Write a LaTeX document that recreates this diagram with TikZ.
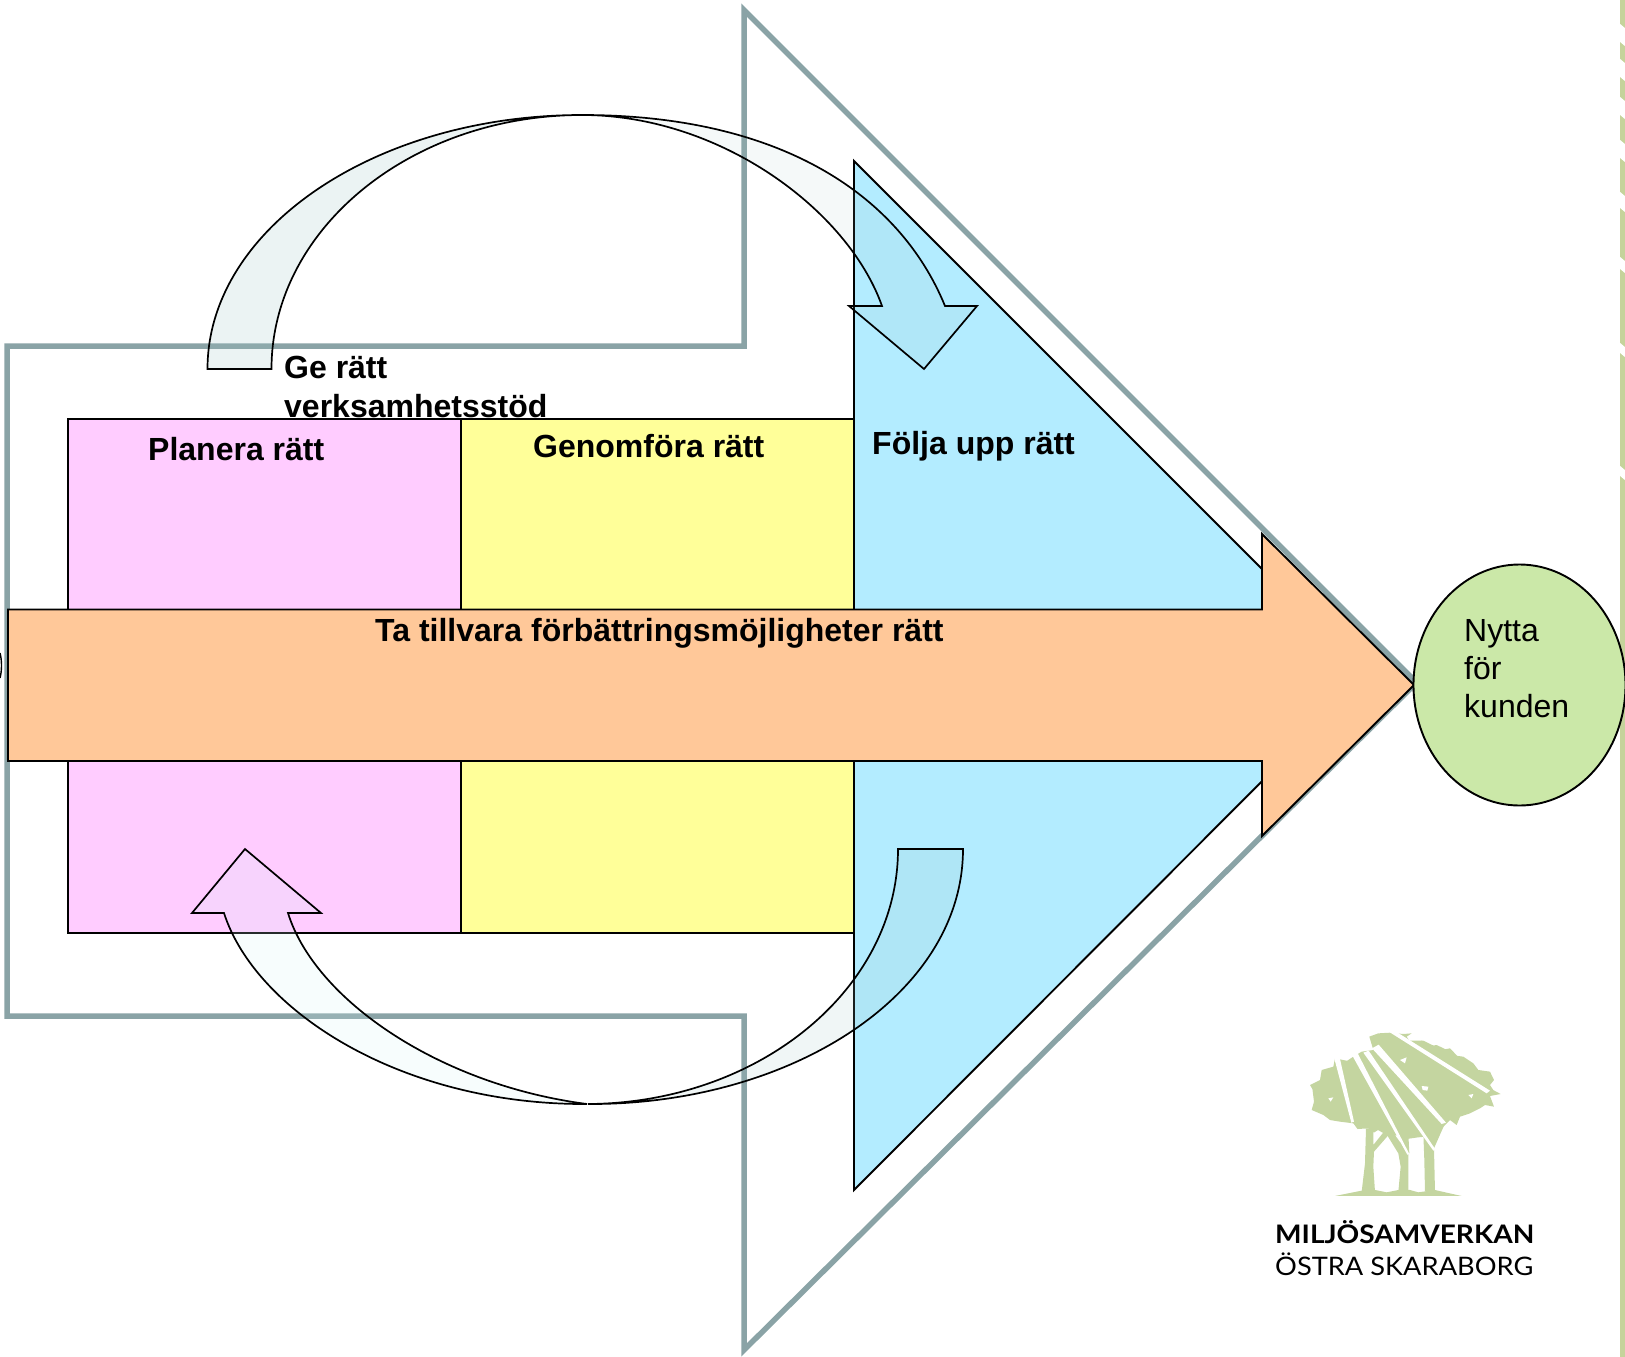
\documentclass[tikz,border=0pt]{standalone}
\usepackage{fontspec}
\usetikzlibrary{decorations.pathmorphing}
\setmainfont{Liberation Sans}
\newfontfamily\logofont{Lato}
\definecolor{ramgra}{RGB}{138,163,166}
\definecolor{rosa}{RGB}{255,204,255}
\definecolor{gul}{RGB}{255,255,153}
\definecolor{bla}{RGB}{179,236,255}
\definecolor{orange}{RGB}{255,200,153}
\definecolor{gron}{RGB}{203,232,168}
\definecolor{trad}{RGB}{196,213,160}
\definecolor{list}{RGB}{197,211,155}
\definecolor{tonmork}{RGB}{155,196,195}
\definecolor{tonljus}{RGB}{211,244,244}
\tikzset{
  box/.style={draw=black, line width=1.9pt, line join=miter},
  bandarrow/.style={draw=black, line width=1.7pt, line join=miter},
  rubrik/.style={inner sep=0pt, anchor=base west, align=left,
    font=\bfseries\fontsize{32}{38.5}\selectfont},
  vanlig/.style={inner sep=0pt, anchor=base west, align=left,
    font=\fontsize{32}{38}\selectfont},
  logotext/.style={inner sep=0pt, anchor=base west, font=\logofont\fontsize{25.5}{30}\selectfont},
  krona/.style={fill=trad, decorate, decoration={random steps, segment length=9, amplitude=5}}
}
\begin{document}
\begin{tikzpicture}[x=1pt,y=-1pt]
\useasboundingbox (0,0) rectangle (1625,1357);
\pgfmathsetseed{11}
% Strip along the right edge
\fill[list] (1620,0) rectangle (1625,1357);
\foreach \yy/\hh in {35/9,70/9,108/9,151/9,202/8,265/6,350/5,473/5}
  \fill[white] (1619,\yy-\hh-3) -- (1626,\yy-\hh+3) -- (1626,\yy+\hh+3) -- (1619,\yy+\hh-3) -- cycle;
% Fragment on the left edge
\draw[line width=1.4pt] (0,653) .. controls (2,660) and (2,671) .. (0,678);
% Outer grey arrow
\draw[ramgra, line width=5.5pt, miter limit=10] (7,346) -- (744,346) -- (744,10) -- (1414,680) -- (1415,684)
  -- (744,1350) -- (744,1016) -- (7,1016) -- cycle;
% The three steps
\draw[box, fill=rosa] (68,419) rectangle (461,933);
\draw[box, fill=gul] (461,419) rectangle (854,933);
\draw[box, fill=bla] (854,161) -- (1368,675) -- (854,1190) -- cycle;
% Long arrow
\draw[box, fill=orange] (8,609.5) -- (1262,609.5) -- (1262,534) -- (1414,685) -- (1262,836)
  -- (1262,761) -- (8,761) -- cycle;
% Circle for the customer
\draw[box, fill=gron] (1519.5,685) ellipse (106 and 120.5);
% Upper curved arrow
\draw[bandarrow, fill=tonmork, fill opacity=.2] (207.5,369) .. controls (207.5,229) and (375,115) .. (582,115)
  .. controls (411,115) and (271.5,229) .. (271.5,369) -- cycle;
\draw[bandarrow, fill=tonmork, fill opacity=.1] (582,115) .. controls (782,115) and (900,196) .. (945,306)
  -- (977,306) -- (924,369) -- (849,306) -- (882,306)
  .. controls (848,210) and (720,115) .. (582,115) -- cycle;
% Lower curved arrow
\draw[bandarrow, fill=tonljus, fill opacity=.18] (587,1104) .. controls (400,1105) and (255,1010) .. (224,913)
  -- (192,913) -- (245,849) -- (321,913) -- (288,913)
  .. controls (315,1000) and (440,1085) .. (587,1104) -- cycle;
\draw[bandarrow, fill=tonmork, fill opacity=.15] (963,849) .. controls (963,995) and (790,1105) .. (588,1104)
  .. controls (759,1103) and (898,989) .. (898,849) -- cycle;
% Labels
\node[rubrik] (stod) at (284,417) {Ge rätt\\verksamhetsstöd};
\node[rubrik] (planera) at (148,460) {Planera rätt};
\node[rubrik] (genomfora) at (533,457) {Genomföra rätt};
\node[rubrik] (folja) at (872,454) {Följa upp rätt};
\node[rubrik] (tillvara) at (375,641) {Ta tillvara förbättringsmöjligheter rätt};
\node[vanlig] (nytta) at (1464,717) {Nytta\\för\\kunden};
% Tree of the logo
\begin{scope}[shift={(1290,1020)},x=.3333pt,y=-.3333pt]
\fill[krona] (243,48) -- (265,40) -- (300,38) -- (340,42) -- (365,40) -- (350,50) -- (358,62) -- (400,62)
  -- (440,75) -- (480,85) -- (520,110) -- (550,130) -- (565,150) -- (600,155) -- (612,180) -- (600,195)
  -- (632,222) -- (600,228) -- (612,260) -- (585,255) -- (570,265) -- (540,280) -- (510,290) -- (500,315)
  -- (480,300) -- (460,320) -- (440,355) -- (405,350) -- (330,345) -- (235,325) -- (190,310) -- (150,305) -- (120,300)
  -- (100,285) -- (65,270) -- (72,245) -- (60,195) -- (90,180) -- (95,150) -- (130,140) -- (135,115)
  -- (190,110) -- (215,95) -- (250,90) -- cycle;
% Trunks and ground
\fill[trad] (228,325) -- (250,325) -- (250,375) -- (290,325) -- (300,340) -- (252,395) -- (250,440)
  -- (255,515) -- (215,515) -- (225,430) -- cycle;
\fill[trad] (285,335) -- (300,325) -- (355,400) -- (355,515) -- (325,515) -- (332,440) -- (325,400) -- cycle;
\fill[trad] (330,340) -- (355,340) -- (358,400) -- (330,400) -- cycle;
\fill[trad] (400,340) -- (465,310) -- (432,385) -- (435,515) -- (405,515) -- (403,420) -- cycle;
\fill[trad] (135,528) -- (215,512) -- (255,510) -- (290,517) -- (325,510) -- (360,510) -- (385,517)
  -- (435,510) -- (470,518) -- (515,528) -- cycle;
% Rays through the crown
\fill[white] (132,112) -- (148,108) -- (192,305) -- (184,308) -- cycle;
\fill[white] (186,105) -- (202,98) -- (358,402) -- (352,404) -- cycle;
\fill[white] (220,98) -- (236,92) -- (436,388) -- (430,392) -- cycle;
\fill[white] (246,85) -- (266,74) -- (468,308) -- (455,312) -- cycle;
\fill[white] (298,36) -- (320,36) -- (600,212) -- (590,220) -- cycle;
\fill[white] (395,198) -- (415,200) -- (412,212) -- (398,210) -- cycle;
\fill[white] (330,120) -- (350,112) -- (345,130) -- cycle;
\fill[white] (115,235) -- (130,232) -- (122,245) -- cycle;
\fill[white] (535,225) -- (550,222) -- (545,235) -- cycle;
\end{scope}
\node[logotext, font=\logofont\bfseries\fontsize{25.5}{30}\selectfont] (miljo) at (1275,1243) {\scalebox{1.1}[1]{MILJÖSAMVERKAN}};
\node[logotext] (ostra) at (1275,1275) {\scalebox{1.068}[1]{ÖSTRA SKARABORG}};
\end{tikzpicture}
\end{document}
